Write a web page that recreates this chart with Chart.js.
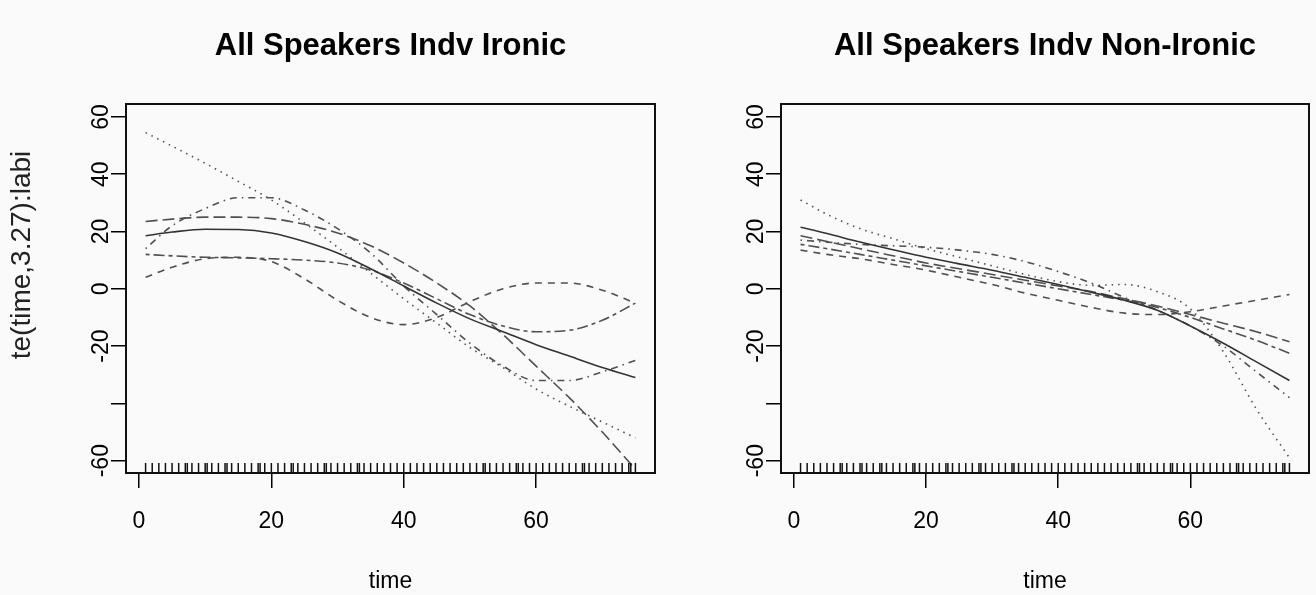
<!DOCTYPE html>
<html><head><meta charset="utf-8">
<script src="https://cdn.jsdelivr.net/npm/chart.js@4/dist/chart.umd.min.js"></script>
<style>
html,body{margin:0;padding:0;background:#fafafa;}
#wrap{position:relative;width:1316px;height:595px;overflow:hidden;}
.c{position:absolute;top:0;width:658px;height:595px;}
</style></head><body>
<div id="wrap">
<div class="c" style="left:0"><canvas id="left" width="658" height="595"></canvas></div>
<div class="c" style="left:658px"><canvas id="right" width="658" height="595"></canvas></div>
</div>
<script>
// ---- data ----
const panelTitles = ['All Speakers Indv Ironic', 'All Speakers Indv Non-Ironic'];
const yAxisTitle = 'te(time,3.27):labi';
const xAxisTitle = 'time';
const xTickValues = [0, 20, 40, 60];
const yTickValues = [-60, -40, -20, 0, 20, 40, 60];
const yTickLabels = ['-60', '', '-20', '0', '20', '40', '60'];
const times = [1, 5, 10, 15, 20, 25, 30, 35, 40, 45, 50, 55, 60, 65, 70, 75];

// Ironic panel
const ironicSolid    = [18.5, 19.8, 20.8, 20.7, 19.5, 16.5, 12.5, 7, 1, -5, -10.5, -15, -19.5, -23.5, -27.5, -31];
const ironicDashed   = [4, 7.5, 10.5, 11, 9.5, 3.5, -4, -10, -12.5, -10, -4.5, 0, 2, 2, -0.5, -5];
const ironicDotted   = [54.5, 49.8, 43.8, 37.5, 31, 23, 14.5, 5.5, -3.5, -12, -20.5, -27.5, -35, -41, -46.5, -52];
const ironicDotDash  = [14, 22, 28, 31.8, 31.8, 27.5, 21, 12.5, 1, -9, -19, -27, -32, -32, -29, -25];
const ironicLongDash = [23.5, 24.3, 25, 25, 24.5, 22.5, 19.5, 15, 9, 2, -6, -16, -27, -38, -50, -63];
const ironicTwoDash  = [12, 11.5, 11, 10.8, 10.5, 10, 9, 6.5, 2, -3.5, -9, -13, -15, -14.5, -11, -5];

// Non-ironic panel
const nonSolid    = [21.5, 19.3, 16.3, 13.6, 11, 8.7, 6.5, 4, 1.5, -1.2, -4, -7.5, -13, -19, -25.5, -32];
const nonDashed   = [13.5, 12, 10.5, 8.5, 6.5, 4, 1.5, -1.5, -4, -6.5, -8.5, -9, -8, -6, -4, -2];
const nonDotted   = [31, 26, 21, 17.5, 14, 11, 8, 5, 2.5, 1.2, 1.5, -1, -7, -22, -42, -59];
const nonDotDash  = [17, 16.3, 15.5, 15, 14.5, 13.5, 12, 9.5, 6, 2, -3, -7.5, -13, -20, -29, -38];
const nonLongDash = [18.5, 16.5, 14, 11.5, 9, 7, 5, 3, 1, -1, -3.5, -6, -9, -12, -15, -18.5];
const nonTwoDash  = [15.5, 14, 12, 10, 8, 6, 4, 2, 0, -2, -4, -6.5, -10, -14, -18, -22.5];

// observation times shown as rug
const rugTimes = [1,2,3,4,5,6,7,7.3,8,9,10,10.3,11,12,13,13.3,14,15,16,17,18,18.3,19,20,21,22,23,23.3,24,25,26,27,28,28.3,29,30,31,32,33,33.3,34,35,36,37,38,39,40,41,42,43,44,45,46,47,48,49,50,51,52,52.3,53,54,55,56,57,57.3,58,59,60,61,62,63,64,65,66,67,67.3,68,69,70,71,72,73,74,74.3,75];

// ---- styling ----
const FONT = "'Liberation Sans', Arial, Helvetica, sans-serif";
const styles = {
  solid:    {dash: [],            color: '#333333'},
  dashed:   {dash: [7, 6],        color: '#505050'},
  dotted:   {dash: [1.5, 5],      color: '#505050'},
  dotdash:  {dash: [1.5, 5, 7, 5],color: '#505050'},
  longdash: {dash: [12, 5],       color: '#505050'},
  twodash:  {dash: [4, 4, 11, 4], color: '#505050'}
};

function ds(values, kind) {
  const s = styles[kind];
  return {
    data: times.map((t, i) => ({x: t, y: values[i]})),
    borderColor: s.color,
    borderDash: s.dash,
    borderWidth: 1.6,
    pointRadius: 0,
    fill: false,
    cubicInterpolationMode: 'monotone'
  };
}

function makePlugin(title, showYTitle) {
  return {
    id: 'rstyle',
    afterDatasetsDraw(chart) {
      const {ctx, chartArea: a, scales: {x, y}} = chart;
      ctx.save();
      // rug
      ctx.strokeStyle = '#111';
      ctx.lineWidth = 1.5;
      rugTimes.forEach(t => {
        const px = x.getPixelForValue(t);
        ctx.beginPath();
        ctx.moveTo(px, a.bottom);
        ctx.lineTo(px, a.bottom - 10);
        ctx.stroke();
      });
      // box
      ctx.strokeStyle = '#111';
      ctx.lineWidth = 2;
      ctx.strokeRect(a.left, a.top, a.right - a.left, a.bottom - a.top);
      // rotated y tick labels
      ctx.fillStyle = '#000';
      ctx.font = '23px ' + FONT;
      ctx.textAlign = 'center';
      ctx.textBaseline = 'middle';
      yTickValues.forEach((v, i) => {
        const lab = yTickLabels[i];
        if (!lab) return;
        const py = y.getPixelForValue(v);
        ctx.save();
        ctx.translate(a.left - 24, py);
        ctx.rotate(-Math.PI / 2);
        ctx.fillText(lab, 0, 0);
        ctx.restore();
      });
      // main title, centred over the plot region
      ctx.font = 'bold 31px ' + FONT;
      ctx.fillText(title, (a.left + a.right) / 2, 46);
      // y axis title
      if (showYTitle) {
        ctx.fillStyle = '#222';
        ctx.font = '28px ' + FONT;
        ctx.save();
        ctx.translate(22, 255);
        ctx.rotate(-Math.PI / 2);
        ctx.fillText(yAxisTitle, 0, 0);
        ctx.restore();
      }
      ctx.restore();
    }
  };
}

function makeChart(id, title, datasets, showYTitle, yWidth, padRight) {
  return new Chart(document.getElementById(id), {
    type: 'line',
    data: {datasets},
    plugins: [makePlugin(title, showYTitle)],
    options: {
      responsive: false,
      animation: false,
      events: [],
      layout: {padding: {left: 0, right: padRight, top: 104, bottom: 0}},
      plugins: {
        legend: {display: false},
        tooltip: {enabled: false},
        title: {display: false}
      },
      scales: {
        x: {
          type: 'linear', min: -1.96, max: 77.96,
          afterBuildTicks: s => { s.ticks = xTickValues.map(v => ({value: v})); },
          afterFit: s => { s.height = 122; },
          border: {display: false},
          grid: {display: true, drawOnChartArea: false, drawTicks: true, tickLength: 15, color: '#000', lineWidth: 1.5},
          ticks: {color: '#000', font: {family: FONT, size: 23}, padding: 20, maxRotation: 0, autoSkip: false},
          title: {display: true, text: xAxisTitle, color: '#000', font: {family: FONT, size: 23, lineHeight: 1.2}, padding: {top: 0, bottom: 0}}
        },
        y: {
          type: 'linear', min: -64.3, max: 64.5,
          afterBuildTicks: s => { s.ticks = yTickValues.map(v => ({value: v})); },
          afterFit: s => { s.width = yWidth; },
          border: {display: false},
          grid: {display: true, drawOnChartArea: false, drawTicks: true, tickLength: 15, color: '#000', lineWidth: 1.5},
          ticks: {display: false},
          title: {display: false}
        }
      }
    }
  });
}

makeChart('left', panelTitles[0], [
  ds(ironicSolid, 'solid'), ds(ironicDashed, 'dashed'), ds(ironicDotted, 'dotted'),
  ds(ironicDotDash, 'dotdash'), ds(ironicLongDash, 'longdash'), ds(ironicTwoDash, 'twodash')
], true, 126, 3);

makeChart('right', panelTitles[1], [
  ds(nonSolid, 'solid'), ds(nonDashed, 'dashed'), ds(nonDotted, 'dotted'),
  ds(nonDotDash, 'dotdash'), ds(nonLongDash, 'longdash'), ds(nonTwoDash, 'twodash')
], false, 123, 7);
</script>
</body></html>
